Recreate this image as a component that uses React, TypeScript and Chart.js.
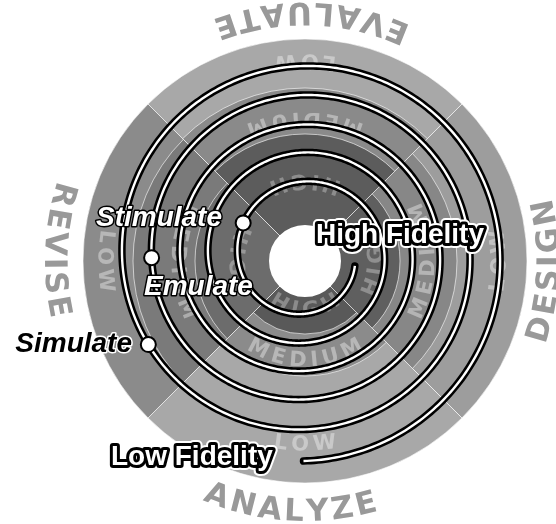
import { useEffect, useRef } from 'react';
import { Chart, registerables } from 'chart.js';

Chart.register(...registerables);

// Sectors (phases): top, right, bottom, left
const PHASES = ['EVALUATE', 'DESIGN', 'ANALYZE', 'REVISE'];
const BANDS = ['LOW', 'MEDIUM', 'HIGH'];

// Outer radius of each fidelity band in each sector (scale units)
const HOLE_RADIUS = [35, 35, 35, 35];
const HIGH_RADIUS = [127, 95, 73, 110];
const MEDIUM_RADIUS = [173, 152, 115, 172];
const LOW_RADIUS = [222, 222, 222, 222];

// Spiral track: radius at each quarter turn (degrees, clockwise from the right)
const SPIRAL_ANGLES = [0, 90, 180, 270, 360, 450, 540, 630, 720, 810, 900, 990, 1080, 1170, 1260, 1350, 1440, 1530, 1620, 1710, 1800, 1890];
const SPIRAL_RADII = [51.5, 59, 66, 73.5, 81, 88, 95.5, 102.5, 109, 116, 123.5, 130.5, 136.5, 144.5, 152, 160, 166.5, 174.5, 181.5, 189, 196.5, 206];
const SPIRAL_START = 12;
const SPIRAL_END = 1890;

// Markers on the spiral
const MARKER_LABELS = ['Stimulate', 'Emulate', 'Simulate'];
const MARKER_ANGLES = [208, 1259, 1590];

const END_LABELS = ['High Fidelity', 'Low Fidelity'];

// ---------- styling / layout ----------
const HIGH_COLORS = ['#5c5c5c', '#5f5f5f', '#595959', '#6c6c6c'];
const MEDIUM_COLORS = ['#8a8a8a', '#878787', '#8b8b8b', '#7a7a7a'];
const LOW_COLORS = ['#a8a8a8', '#9d9d9d', '#a8a8a8', '#8b8b8b'];
const SECTOR_CENTER_DEG = [270, 0, 90, 180];
const BAND_LABEL_R = [
  [201, 143, 81],
  [195, 124, 72],
  [184, 100, 50],
  [201, 128, 70],
];
const PHASE_DEG = [271.6, 2.4, 93.4, 182.6];
const PHASE_R = [250, 246, 252, 252];
const SPIRAL_OFFSET = [-1.5, -6];

function arcText(
  ctx: CanvasRenderingContext2D,
  text: string,
  cx: number,
  cy: number,
  r: number,
  centerDeg: number,
  spacing: number
) {
  const chars = text.split('');
  const widths = chars.map((c) => ctx.measureText(c).width);
  const total = widths.reduce((a, b) => a + b, 0) + spacing * (chars.length - 1);
  let cur = (centerDeg * Math.PI) / 180 + total / (2 * r);
  chars.forEach((ch, i) => {
    const a = cur - widths[i] / (2 * r);
    ctx.save();
    ctx.translate(cx + r * Math.cos(a), cy + r * Math.sin(a));
    ctx.rotate(a - Math.PI / 2);
    ctx.textAlign = 'center';
    ctx.textBaseline = 'middle';
    ctx.fillText(ch, 0, 0);
    ctx.restore();
    cur -= (widths[i] + spacing) / r;
  });
}

function spiralRadius(deg: number) {
  for (let i = 0; i < SPIRAL_ANGLES.length - 1; i++) {
    const a0 = SPIRAL_ANGLES[i];
    const a1 = SPIRAL_ANGLES[i + 1];
    if (deg <= a1) {
      const t = (deg - a0) / (a1 - a0);
      return SPIRAL_RADII[i] + t * (SPIRAL_RADII[i + 1] - SPIRAL_RADII[i]);
    }
  }
  return SPIRAL_RADII[SPIRAL_RADII.length - 1];
}

function outlined(
  ctx: CanvasRenderingContext2D,
  text: string,
  x: number,
  y: number,
  align: CanvasTextAlign,
  fill: string,
  strokes: [string, number][]
) {
  ctx.textAlign = align;
  ctx.textBaseline = 'alphabetic';
  ctx.lineJoin = 'round';
  strokes.forEach(([c, w]) => {
    ctx.strokeStyle = c;
    ctx.lineWidth = w;
    ctx.strokeText(text, x, y);
  });
  ctx.fillStyle = fill;
  ctx.fillText(text, x, y);
}

const spiralPlugin = {
  id: 'spiralOverlay',
  afterDatasetsDraw(chart: any) {
    const ctx: CanvasRenderingContext2D = chart.ctx;
    const s = chart.scales.r;
    const cx = s.xCenter;
    const cy = s.yCenter;
    const k = s.getDistanceFromCenterForValue(100) / 100;

    // band labels
    ctx.save();
    ctx.font = 'bold 21px "DejaVu Sans"';
    PHASES.forEach((_, si) => {
      BANDS.forEach((band, bi) => {
        ctx.fillStyle = bi === 2 ? 'rgba(255,255,255,0.3)' : 'rgba(255,255,255,0.38)';
        arcText(ctx, band, cx, cy, BAND_LABEL_R[si][bi] * k, SECTOR_CENTER_DEG[si], 4);
      });
    });
    ctx.restore();

    // spiral
    const scx = cx + SPIRAL_OFFSET[0] * k;
    const scy = cy + SPIRAL_OFFSET[1] * k;
    const pt = (deg: number) => {
      const r = spiralRadius(deg) * k;
      const a = (deg * Math.PI) / 180;
      return [scx + r * Math.cos(a), scy + r * Math.sin(a)];
    };
    ctx.save();
    ctx.beginPath();
    for (let d = SPIRAL_START; d <= SPIRAL_END; d += 1) {
      const [x, y] = pt(d);
      if (d === SPIRAL_START) ctx.moveTo(x, y);
      else ctx.lineTo(x, y);
    }
    ctx.lineJoin = 'round';
    ctx.lineCap = 'round';
    ctx.strokeStyle = '#000';
    ctx.lineWidth = 7.5;
    ctx.stroke();
    ctx.lineCap = 'butt';
    ctx.strokeStyle = '#fff';
    ctx.lineWidth = 2.4;
    ctx.stroke();
    ctx.restore();

    // markers
    const markerPts = MARKER_ANGLES.map((a) => pt(a));
    ctx.save();
    markerPts.forEach(([x, y]) => {
      ctx.beginPath();
      ctx.arc(x, y, 7.5, 0, Math.PI * 2);
      ctx.fillStyle = '#fff';
      ctx.fill();
      ctx.lineWidth = 2;
      ctx.strokeStyle = '#000';
      ctx.stroke();
    });
    ctx.restore();

    // marker labels
    ctx.save();
    ctx.font = 'italic bold 28px "Liberation Sans"';
    outlined(ctx, MARKER_LABELS[0], cx - 83, cy - 35, 'right', '#fff', [['#000', 3]]);
    outlined(ctx, MARKER_LABELS[1], cx - 161, cy + 34, 'left', '#fff', [['#000', 3]]);
    outlined(ctx, MARKER_LABELS[2], cx - 173, cy + 91, 'right', '#000', [['#fff', 3]]);
    ctx.font = 'bold 28px "Liberation Sans"';
    outlined(ctx, END_LABELS[0], cx + 11, cy - 18, 'left', '#fff', [['#fff', 10], ['#000', 6]]);
    outlined(ctx, END_LABELS[1], cx - 194, cy + 204, 'left', '#fff', [['#fff', 10], ['#000', 6]]);
    ctx.restore();

    // phase labels
    ctx.save();
    ctx.font = 'bold 31px "DejaVu Sans"';
    ctx.fillStyle = '#999999';
    PHASES.forEach((p, i) => {
      arcText(ctx, p, cx, cy, PHASE_R[i] * k, PHASE_DEG[i], 2.5);
    });
    ctx.restore();
  },
};

export default function App() {
  const ref = useRef<HTMLCanvasElement | null>(null);
  useEffect(() => {
    if (!ref.current) return;
    const border = 'rgba(255,255,255,0.6)';
    const chart = new Chart(ref.current, {
      type: 'polarArea',
      data: {
        labels: PHASES,
        datasets: [
          { label: 'hole', data: HOLE_RADIUS, backgroundColor: '#ffffff', borderColor: '#ffffff', borderWidth: 2 },
          { label: BANDS[2], data: HIGH_RADIUS, backgroundColor: HIGH_COLORS, borderColor: border, borderWidth: 1 },
          { label: BANDS[1], data: MEDIUM_RADIUS, backgroundColor: MEDIUM_COLORS, borderColor: border, borderWidth: 1 },
          { label: BANDS[0], data: LOW_RADIUS, backgroundColor: LOW_COLORS, borderColor: border, borderWidth: 1 },
        ],
      },
      options: {
        responsive: false,
        animation: false,
        events: [],
        layout: { padding: { left: 83, right: 29, top: 39, bottom: 41 } },
        plugins: { legend: { display: false }, tooltip: { enabled: false } },
        scales: {
          r: {
            display: false,
            min: 0,
            max: 222,
            startAngle: -45,
            ticks: { display: false },
            grid: { display: false },
            angleLines: { display: false },
            pointLabels: { display: false },
          },
        },
      } as any,
      plugins: [spiralPlugin],
    });
    return () => chart.destroy();
  }, []);
  return (
    <div style={{ position: 'fixed', left: 0, top: 0, width: 556, height: 524, background: '#fff' }}>
      <canvas ref={ref} width={556} height={524} style={{ display: 'block', width: 556, height: 524 }} />
    </div>
  );
}
